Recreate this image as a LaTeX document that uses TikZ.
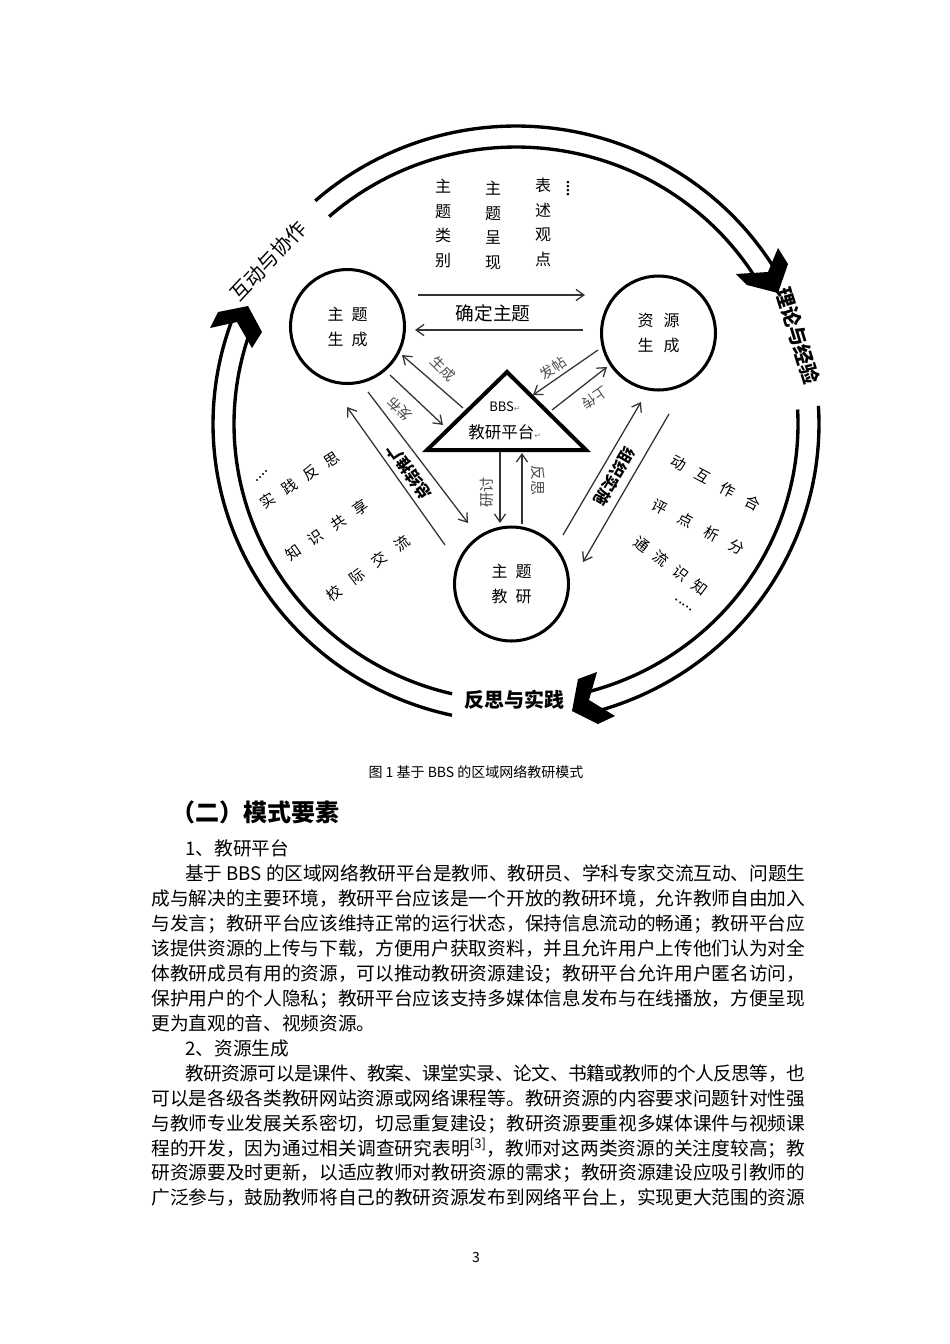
\documentclass[tikz,border=0pt]{standalone}
\usepackage{fontspec}
\setmainfont{Noto Sans CJK SC}
\newfontfamily\dejavu{DejaVu Sans}
\usetikzlibrary{arrows.meta}
\newdimen\pxu
\pxu=0.6266pt
\XeTeXlinebreaklocale "zh"
\XeTeXlinebreakskip=0pt plus 4pt minus 1.5pt
\newcommand\pxfont[2][1.25]{\fontsize{\fpeval{#2*0.6266}pt}{\fpeval{#2*0.6266*#1}pt}\selectfont}
\newcommand\gapx[1]{\hspace{\fpeval{#1*0.6266}pt}}
\newcommand\jline[3]{\node[bodytxt] at (#1,{855.6+24.95*#2}) {\parbox[t]{\fpeval{(805-#1)*0.6266}pt}{\tolerance=10000\relax\hbadness=10000\relax\parfillskip=0pt\relax #3}};}
\newcommand\pline[3]{\node[bodytxt] at (#1,{855.6+24.95*#2}) {#3};}
\tikzset{
 ring/.style={line width=2.1pt},
 bigc/.style={circle, draw, line width=1.9pt, minimum size=114\pxu, inner sep=0pt, align=center, font={\pxfont[1.5625]{16}}},
 thinarr/.style={line width=0.8pt, draw=black!80, -{Straight Barb[length=5pt,width=7pt]}},
 ringlbl/.style={inner sep=0pt, font=\pxfont{20}},
 ringbold/.style={inner sep=0pt, font=\pxfont{20}\bfseries},
 minilbl/.style={inner sep=0pt, text=black!70, font=\pxfont{14}},
 duolbl/.style={inner sep=0pt, font=\pxfont{16}\bfseries},
 sidetxt/.style={inner sep=0pt, font=\pxfont{15}},
 coltxt/.style={inner sep=0pt, align=center, font={\pxfont[1.53]{16}}},
 bodytxt/.style={anchor=base west, inner sep=0pt, font=\pxfont{18.69}},
}
\begin{document}
\begin{tikzpicture}[x=0.6266pt, y=-0.6266pt]
\useasboundingbox (0,0) rectangle (950,1344);
\fill[white] (0,0) rectangle (950,1344);

% ---- outer ring ----
\draw[ring] plot[domain=131.5:30,samples=80] ({516+303*cos(\x)},{424-298*sin(\x)});
\draw[ring] plot[domain=131.5:30,samples=80] ({516+282*cos(\x)},{424-277*sin(\x)});
\draw[ring] plot[domain=3.5:-75,samples=80] ({516+303*cos(\x)},{424-298*sin(\x)});
\draw[ring] plot[domain=3:-77,samples=80] ({516+282*cos(\x)},{424-277*sin(\x)});
\draw[ring] plot[domain=-102.2:-200,samples=80] ({516+303*cos(\x)},{424-298*sin(\x)});
\draw[ring] plot[domain=-103.1:-202,samples=80] ({516+282*cos(\x)},{424-277*sin(\x)});
% chevrons
\fill (778,293) -- (788,264) -- (778,248) -- (768,272) -- (736,274) -- (747,285) -- cycle;
\fill (572,711) -- (578,679) -- (597,672) -- (589,700) -- (615,716) -- (598,724) -- cycle;
\fill (210,328) -- (218,312) -- (248,306) -- (262,332) -- (252,348) -- (237,322) -- cycle;
% ring labels
\node[ringlbl, rotate=47] (rl1) at (268,261) {互动与协作};
\node[ringbold, rotate=-73] (rl2) at (798,336) {理论与经验};
\node[ringbold] (rl3) at (514,700) {反思与实践};

% ---- circles and triangle ----
\node[bigc] (zs) at (347.5,326.5) {主\gapx{8}题\\生\gapx{8}成};
\node[bigc] (zy) at (658.5,333) {资\gapx{10}源\\生\gapx{10}成};
\node[bigc] (zj) at (511.5,584) {主\gapx{8}题\\教\gapx{8}研};
\coordinate (tA) at (507,372);
\coordinate (tL) at (427,450);
\coordinate (tR) at (586,450);
\draw[line width=2.5pt, line join=miter] (tA) -- (tL) -- (tR) -- cycle;
\node[anchor=west, inner sep=0pt, font=\pxfont{13}] (bbs) at (489,407) {BBS{\dejavu\pxfont{8}\color{black!50}↵}};
\node[anchor=west, inner sep=0pt, font=\pxfont{16.5}] (jypt) at (468,432) {教研平台{\dejavu\pxfont{8}\color{black!50}↵}};

% ---- top text ----
\node[coltxt] (c1) at (443,223.5) {主\\题\\类\\别};
\node[coltxt] (c2) at (493,225.5) {主\\题\\呈\\现};
\node[coltxt] (c3) at (543,222.5) {表\\述\\观\\点};
\node[inner sep=0pt, font=\pxfont{12}\bfseries, rotate=-90] (c4) at (568,188.5) {....};

% ---- top arrows ----
\coordinate (a1s) at (418,295); \coordinate (a1e) at (585,295);
\coordinate (a2s) at (583,330); \coordinate (a2e) at (415,330);
\draw[thinarr] (a1s) -- (a1e);
\draw[thinarr] (a2s) -- (a2e);
\node[inner sep=0pt, font=\pxfont{18.7}] (qd) at (493,313) {确定主题};

% ---- left arrows ----
\coordinate (b1s) at (463,408); \coordinate (b1e) at (402,355);
\coordinate (b2s) at (390,375); \coordinate (b2e) at (443,425);
\coordinate (b3s) at (445,545); \coordinate (b3e) at (347,407);
\coordinate (b4s) at (368,392); \coordinate (b4e) at (468,523);
\draw[thinarr] (b1s) -- (b1e);
\draw[thinarr] (b2s) -- (b2e);
\draw[thinarr] (b3s) -- (b3e);
\draw[thinarr] (b4s) -- (b4e);
\node[minilbl, rotate=-45] (lsc) at (443,369) {生成};
\node[minilbl, rotate=137] (lfb) at (400,409) {发布};
\node[duolbl, rotate=125.4] (lzj) at (409.1,472.2) {总结推广};

% ---- right arrows ----
\coordinate (c1s) at (598,350); \coordinate (c1e) at (533,395);
\coordinate (c2s) at (552,410); \coordinate (c2e) at (607,367);
\coordinate (c3s) at (563,535); \coordinate (c3e) at (641,402);
\coordinate (c4s) at (669,414); \coordinate (c4e) at (583,562);
\draw[thinarr] (c1s) -- (c1e);
\draw[thinarr] (c2s) -- (c2e);
\draw[thinarr] (c3s) -- (c3e);
\draw[thinarr] (c4s) -- (c4e);
\node[minilbl, rotate=35] (lft) at (553,368) {发帖};
\node[minilbl, rotate=215] (lsch) at (595,398) {上传};
\node[duolbl, rotate=-120.4] (lzz) at (614.8,476.7) {组织实施};

% ---- vertical arrows ----
\coordinate (d1s) at (500,452); \coordinate (d1e) at (500,523);
\coordinate (d2s) at (522,524); \coordinate (d2e) at (522,453);
\draw[thinarr] (d1s) -- (d1e);
\draw[thinarr] (d2s) -- (d2e);
\node[minilbl, rotate=90, font=\pxfont{15}] (lyt) at (487,492) {研讨};
\node[minilbl, rotate=-90, font=\pxfont{15}] (lfs) at (538,480) {反思};

% ---- side text blocks ----
\node[sidetxt, rotate=40] (l0) at (262,476) {....};
\node[sidetxt, rotate=33] (l1) at (300,480) {实\gapx{10.5}践\gapx{10.5}反\gapx{10.5}思};
\node[sidetxt, rotate=34.5] (l2) at (327,530) {知\gapx{12}识\gapx{12}共\gapx{12}享};
\node[sidetxt, rotate=36.7] (l3) at (368,568) {校\gapx{13}际\gapx{13}交\gapx{13}流};
\node[sidetxt, rotate=-28] (r1) at (715.5,483) {动\gapx{13}互\gapx{13}作\gapx{13}合};
\node[sidetxt, rotate=-27.5] (r2) at (698.5,527) {评\gapx{14}点\gapx{14}析\gapx{14}分};
\node[sidetxt, rotate=-37] (r3) at (671,566) {通\gapx{9}流\gapx{9}识\gapx{9}知};
\node[sidetxt, rotate=-35] (r4) at (684,605) {.....};

% ---- page text ----
\node[inner sep=0pt, font=\pxfont{14}] (cap) at (476,772) {图 1 基于 BBS 的区域网络教研模式};
\node[anchor=base west, inner sep=0pt, font=\pxfont{24}\bfseries] (hd) at (171,821) {（二）模式要素};
\pline{185}{0}{1、教研平台}
\jline{185}{1}{基于 BBS 的区域网络教研平台是教师、教研员、学科专家交流互动、问题生}
\jline{151}{2}{成与解决的主要环境，教研平台应该是一个开放的教研环境，允许教师自由加入}
\jline{151}{3}{与发言；教研平台应该维持正常的运行状态，保持信息流动的畅通；教研平台应}
\jline{151}{4}{该提供资源的上传与下载，方便用户获取资料，并且允许用户上传他们认为对全}
\jline{151}{5}{体教研成员有用的资源，可以推动教研资源建设；教研平台允许用户匿名访问，}
\jline{151}{6}{保护用户的个人隐私；教研平台应该支持多媒体信息发布与在线播放，方便呈现}
\pline{151}{7}{更为直观的音、视频资源。}
\pline{185}{8}{2、资源生成}
\jline{185}{9}{教研资源可以是课件、教案、课堂实录、论文、书籍或教师的个人反思等，也}
\jline{151}{10}{可以是各级各类教研网站资源或网络课程等。教研资源的内容要求问题针对性强}
\jline{151}{11}{与教师专业发展关系密切，切忌重复建设；教研资源要重视多媒体课件与视频课}
\jline{151}{12}{程的开发，因为通过相关调查研究表明\textsuperscript{[3]}，教师对这两类资源的关注度较高；教}
\jline{151}{13}{研资源要及时更新，以适应教师对教研资源的需求；教研资源建设应吸引教师的}
\jline{151}{14}{广泛参与，鼓励教师将自己的教研资源发布到网络平台上，实现更大范围的资源}
\node[inner sep=0pt, font=\pxfont{14}] (pg) at (476,1257) {3};
\end{tikzpicture}
\end{document}
